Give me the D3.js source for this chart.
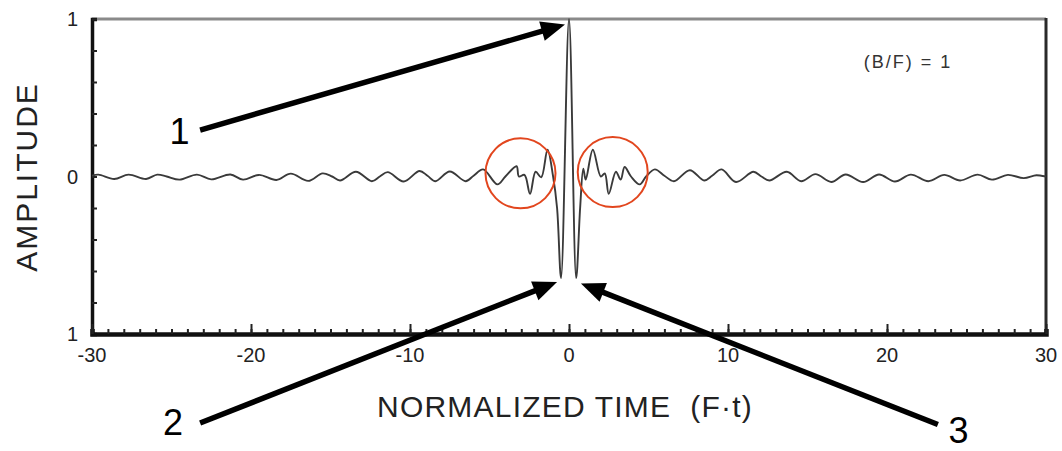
<!DOCTYPE html>
<html>
<head>
<meta charset="utf-8">
<script src="https://cdn.jsdelivr.net/npm/d3@7"></script>
<style>
  html, body { margin: 0; padding: 0; background: #ffffff; }
  svg { display: block; }
  text { font-family: "Liberation Sans", Arial, Helvetica, sans-serif; }
</style>
</head>
<body>
<svg id="chart" width="1062" height="451"></svg>
<script>
// ---------------- data ----------------
const time = [
  -30, -29.6, -28.6, -27.7, -26.6, -25.9, -25.3, -24.5, -23.4, -22.5,
  -21.3, -20.5, -19.5, -18.4, -17.5, -16.4, -15.5, -14.9, -14.4, -13.4,
  -12.4, -11.9, -11.4, -10.4, -9.4, -8.9, -8.4, -7.5, -6.5, -6.0,
  -5.4, -4.5, -4.0, -3.3, -3.15, -2.8, -2.45, -2.1, -1.75, -1.35,
  -1.0, -0.75, -0.5, 0, 0.45, 0.7, 0.9, 1.05, 1.5, 2.0,
  2.25, 2.5, 2.95, 3.25, 3.5, 3.9, 4.45, 4.85, 5.4, 6.0,
  6.6, 7.6, 8.5, 9.0, 9.6, 10.5, 11.6, 12.1, 12.6, 13.7,
  14.6, 15.5, 16.5, 17.4, 18.5, 19.5, 20.5, 21.5, 22.6, 23.6,
  24.6, 25.7, 26.6, 27.6, 28.6, 29.4, 30
];
const amplitude = [
  0.005, 0.012, -0.016, 0.012, -0.016, 0.012, 0.0, -0.02, 0.012, -0.018,
  0.013, -0.02, 0.01, -0.022, 0.018, -0.028, 0.02, 0.0, -0.025, 0.03,
  -0.03, 0.0, 0.028, -0.032, 0.035, 0.005, -0.03, 0.032, -0.03, 0.005,
  0.045, -0.05, 0.0, 0.065, 0.0, 0.01, -0.11, 0.03, -0.005, 0.17,
  0.0, -0.2, -0.645, 1.0, -0.645, -0.2, 0.05, -0.02, 0.17, 0.0,
  0.02, -0.11, 0.03, -0.02, 0.06, 0.0, -0.05, 0.0, 0.045, 0.005,
  -0.03, 0.04, -0.025, 0.005, 0.045, -0.035, 0.03, 0.0, -0.025, 0.03,
  -0.03, 0.015, -0.035, 0.013, -0.035, 0.013, -0.032, 0.012, -0.03, 0.01,
  -0.025, 0.012, -0.02, 0.01, -0.01, 0.008, 0.0
];

const xTickValues = [-30, -20, -10, 0, 10, 20, 30];
const xTickLabels = ["-30", "-20", "-10", "0", "10", "20", "30"];
const yTickValues = [1, 0, -1];
const yTickLabels = ["1", "0", "1"];

const xTitle = "NORMALIZED TIME  (F\u00B7t)";
const yTitle = "AMPLITUDE";
const noteText = "(B/F) = 1";

// annotation arrows: tail and tip in data coordinates
const arrowLabels = ["1", "2", "3"];
const arrowTailT = [-23.2, -23.2, 23.2];
const arrowTailA = [0.295, -1.565, -1.575];
const arrowTipT  = [-0.25, -0.75, 0.75];
const arrowTipA  = [0.965, -0.67, -0.68];
const labelT = [-24.5, -24.9, 24.5];
const labelA = [0.205, -1.64, -1.695];

// highlight circles (data centers)
const circleT = [-3.05, 2.75];
const circleA = [0.02, 0.028];

// ---------------- drawing ----------------
const svg = d3.select("#chart");
const x = d3.scaleLinear().domain([-30, 30]).range([92, 1046]);
const y = d3.scaleLinear().domain([-1, 1]).range([334, 19]);

// frame: top (gray), right
svg.append("line").attr("x1", x(-30)).attr("x2", x(30)).attr("y1", y(1)).attr("y2", y(1))
  .attr("stroke", "#8a8a8a").attr("stroke-width", 3);
svg.append("line").attr("x1", x(30)).attr("x2", x(30)).attr("y1", y(1) - 1).attr("y2", y(-1))
  .attr("stroke", "#2a2a2a").attr("stroke-width", 3);

// left axis with inward ticks every 0.2
const yAxis = d3.axisRight(y).tickValues(d3.range(-1, 1.0001, 0.2)).tickSize(5).tickFormat("");
const gy = svg.append("g").attr("transform", `translate(${x(-30)},0)`).call(yAxis);
gy.select(".domain").attr("stroke", "#111").attr("stroke-width", 3.5);
gy.selectAll(".tick line").attr("stroke", "#222").attr("stroke-width", 2);

// bottom axis: minor (every 1) and major (every 10) ticks pointing up
const xMinor = d3.axisTop(x).tickValues(d3.range(-30, 30.001, 1)).tickSize(5).tickFormat("");
const gxm = svg.append("g").attr("transform", `translate(0,${y(-1)})`).call(xMinor);
gxm.select(".domain").attr("stroke", "#111").attr("stroke-width", 4.5);
gxm.selectAll(".tick line").attr("stroke", "#222").attr("stroke-width", 2);
const xMajor = d3.axisTop(x).tickValues(xTickValues).tickSize(10).tickFormat("");
const gxM = svg.append("g").attr("transform", `translate(0,${y(-1)})`).call(xMajor);
gxM.select(".domain").remove();
gxM.selectAll(".tick line").attr("stroke", "#222").attr("stroke-width", 2);

// tick labels
svg.append("g").selectAll("text").data(xTickValues).join("text")
  .attr("x", d => x(d)).attr("y", 362)
  .attr("text-anchor", "middle").attr("font-size", 20).attr("fill", "#222")
  .text((d, i) => xTickLabels[i]);
svg.append("g").selectAll("text").data(yTickValues).join("text")
  .attr("x", 78).attr("y", d => y(d) + 7)
  .attr("text-anchor", "end").attr("font-size", 20).attr("fill", "#222")
  .text((d, i) => yTickLabels[i]);

// titles
svg.append("text").attr("x", 565).attr("y", 417).attr("text-anchor", "middle")
  .style("white-space", "pre")
  .attr("font-size", 30).attr("letter-spacing", 1.2).attr("fill", "#222").text(xTitle);
svg.append("text").attr("transform", `translate(37,${177}) rotate(-90)`).attr("text-anchor", "middle")
  .attr("font-size", 30).attr("letter-spacing", 2).attr("fill", "#222").text(yTitle);
svg.append("text").attr("x", 908).attr("y", 68).attr("text-anchor", "middle")
  .attr("font-size", 18).attr("letter-spacing", 2).attr("fill", "#333").text(noteText);

// waveform
const pts = time.map((t, i) => [t, amplitude[i]]);
svg.append("path").datum(pts)
  .attr("fill", "none").attr("stroke", "#3a3a3a").attr("stroke-width", 1.9)
  .attr("stroke-linejoin", "round")
  .attr("d", d3.line().curve(d3.curveCatmullRom.alpha(0.5)).x(d => x(d[0])).y(d => y(d[1])));

// red circles
svg.append("g").selectAll("circle").data(circleT).join("circle")
  .attr("cx", d => x(d)).attr("cy", (d, i) => y(circleA[i])).attr("r", 35)
  .attr("fill", "none").attr("stroke", "#e2461e").attr("stroke-width", 2);

// arrows
const headLen = 24, headHalf = 10;
arrowLabels.forEach((lab, i) => {
  const x1 = x(arrowTailT[i]), y1 = y(arrowTailA[i]);
  const x2 = x(arrowTipT[i]), y2 = y(arrowTipA[i]);
  const ang = Math.atan2(y2 - y1, x2 - x1);
  const bx = x2 - headLen * Math.cos(ang), by = y2 - headLen * Math.sin(ang);
  svg.append("line").attr("x1", x1).attr("y1", y1).attr("x2", bx + 2 * Math.cos(ang)).attr("y2", by + 2 * Math.sin(ang))
    .attr("stroke", "#000").attr("stroke-width", 5.5);
  const px = -Math.sin(ang), py = Math.cos(ang);
  svg.append("path")
    .attr("d", `M${x2},${y2}L${bx + headHalf * px},${by + headHalf * py}L${bx - headHalf * px},${by - headHalf * py}Z`)
    .attr("fill", "#000");
  svg.append("text").attr("x", x(labelT[i])).attr("y", y(labelA[i]))
    .attr("text-anchor", "middle").attr("font-size", 36).attr("fill", "#000").text(lab);
});
</script>
</body>
</html>
